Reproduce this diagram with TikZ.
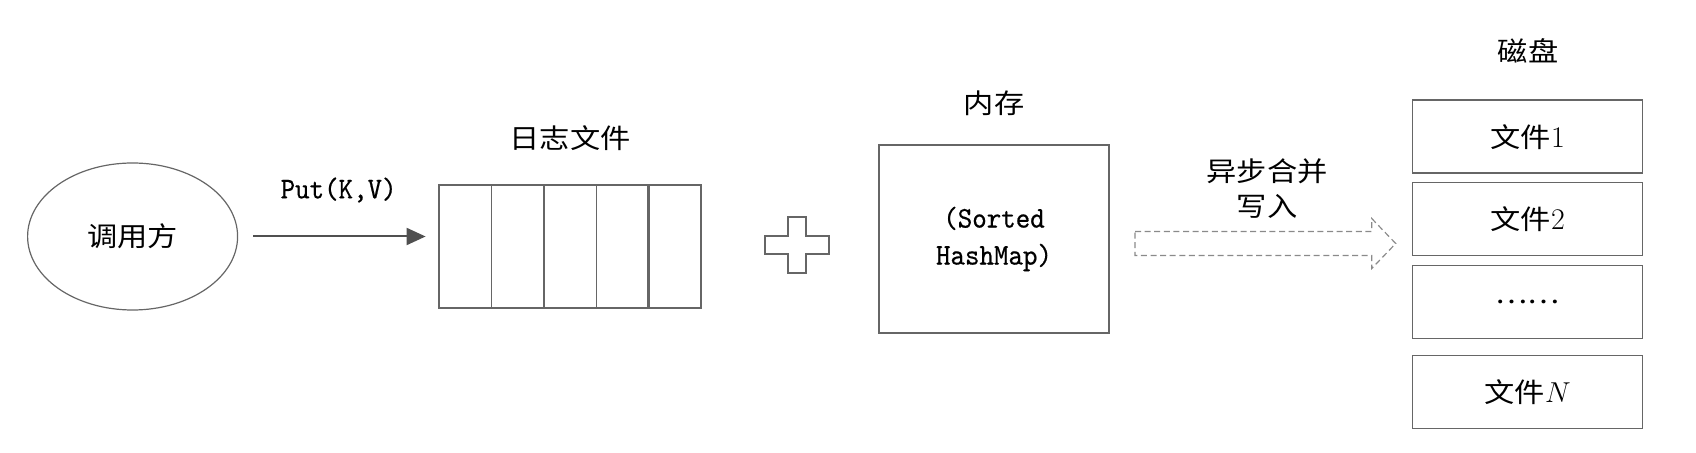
\documentclass[tikz,border=0pt]{standalone}
\usepackage{fontspec}
\usepackage{tikz}
\usepackage{xcolor}
\usetikzlibrary{arrows.meta, calc, positioning, shapes.geometric}
\newfontfamily\cjk[FakeStretch=1.12]{Noto Sans CJK SC}
\newfontfamily\lmono[FakeStretch=0.92, FakeBold=0.5]{lmmono10-regular.otf}
\newcommand{\fnum}[1]{{\rmfamily\fontsize{15pt}{17.5pt}\selectfont #1}}
\definecolor{linegray}{HTML}{666666}
\definecolor{arrowgray}{HTML}{505050}
\definecolor{dashgray}{HTML}{8A8A8A}
\tikzset{
  %caption text style
  caption/.style={
    font=\cjk\fontsize{13.5pt}{17.5pt}\selectfont
    , align=center
    , inner sep=0pt
  },
  %code text style
  code/.style={
    font=\lmono\fontsize{15pt}{18.5pt}\selectfont
    , align=center
    , inner sep=0pt
  },
  %caller node style
  caller/.style={
    draw=linegray
    , ellipse
    , line width=0.6pt
    , minimum width=105pt
    , minimum height=73.5pt
    , caption
  },
  %log cell style
  cell/.style={
    draw=linegray
    , line width=0.7pt
    , minimum width=26.2pt
    , minimum height=61.35pt
    , inner sep=0pt
    , outer sep=0pt
  },
  %memory and disk box style
  store/.style={
    draw=linegray
    , line width=0.7pt
    , minimum width=115pt
    , inner sep=0pt
    , outer sep=0pt
  },
  feed/.style={
    draw=arrowgray
    , line width=1pt
    , -{Triangle[length=9.5pt, width=8.5pt]}
  },
  merge/.style={
    draw=dashgray
    , line width=0.6pt
    , dash pattern=on 3pt off 1.8pt
  },
}
\begin{document}
\begin{tikzpicture}[x=0.5pt, y=-0.5pt]
  \useasboundingbox (0,0) rectangle (1696,453);

  % caller
  \node[caller] (caller) at (132.6,236.5) {调用方};

  % log file
  \foreach \i in {1,...,5}
    \node[cell] (log\i) at ({439+52.4*(\i-0.5)},246.5) {};
  \draw[linegray, line width=1.2pt] (log4.north east) -- (log4.south east);
  \node[caption] (loglabel) at (570,138) {日志文件};

  \draw[feed, shorten <=7.5pt, shorten >=6.7pt] (caller.east) -- (caller.east -| log1.west)
    node[code, midway, above=16.5pt] (put) {Put(K,V)};

  % plus
  \coordinate (plus) at (797,245);
  \draw[linegray, line width=0.8pt]
    ($(plus)+(-32,-9)$) -- ($(plus)+(-9,-9)$) -- ($(plus)+(-9,-28)$)
    -- ($(plus)+(9,-28)$) -- ($(plus)+(9,-9)$) -- ($(plus)+(32,-9)$)
    -- ($(plus)+(32,9)$) -- ($(plus)+(9,9)$) -- ($(plus)+(9,28)$)
    -- ($(plus)+(-9,28)$) -- ($(plus)+(-9,9)$) -- ($(plus)+(-32,9)$) -- cycle;

  % memory
  \node[store, minimum height=94pt, code] (mem) at (994,239) {(Sorted\\HashMap)};
  \node[caption] (memlabel) at (994,103) {内存};

  % disk
  \node[store, minimum height=36.5pt, caption] (disk1) at (1527.7,136.7) {文件\fnum{1}};
  \node[store, minimum height=36.5pt, caption, below=4.6pt of disk1] (disk2) {文件\fnum{2}};
  \node[store, minimum height=36.5pt, caption, below=5pt of disk2] (disk3) {……};
  \node[store, minimum height=36.5pt, caption, below=8.6pt of disk3] (diskn) {文件\fnum{$N$}};
  \node[caption] (disklabel) at (1528,51) {磁盘};

  % async merge
  \coordinate (wstart) at ($(mem.east)+(26,4.5)$);
  \coordinate (wtip) at (wstart -| disk2.west);
  \coordinate (wtip) at ($(wtip)+(-17,0)$);
  \draw[merge]
    ($(wstart)+(0,-12)$) -- ($(wtip)+(-24,-12)$) -- ($(wtip)+(-24,-25)$)
    -- (wtip) -- ($(wtip)+(-24,25)$) -- ($(wtip)+(-24,12)$)
    -- ($(wstart)+(0,12)$) -- cycle;
  \node[caption] (mergelabel) at (1267,189) {异步合并\\写入};
\end{tikzpicture}
\end{document}
